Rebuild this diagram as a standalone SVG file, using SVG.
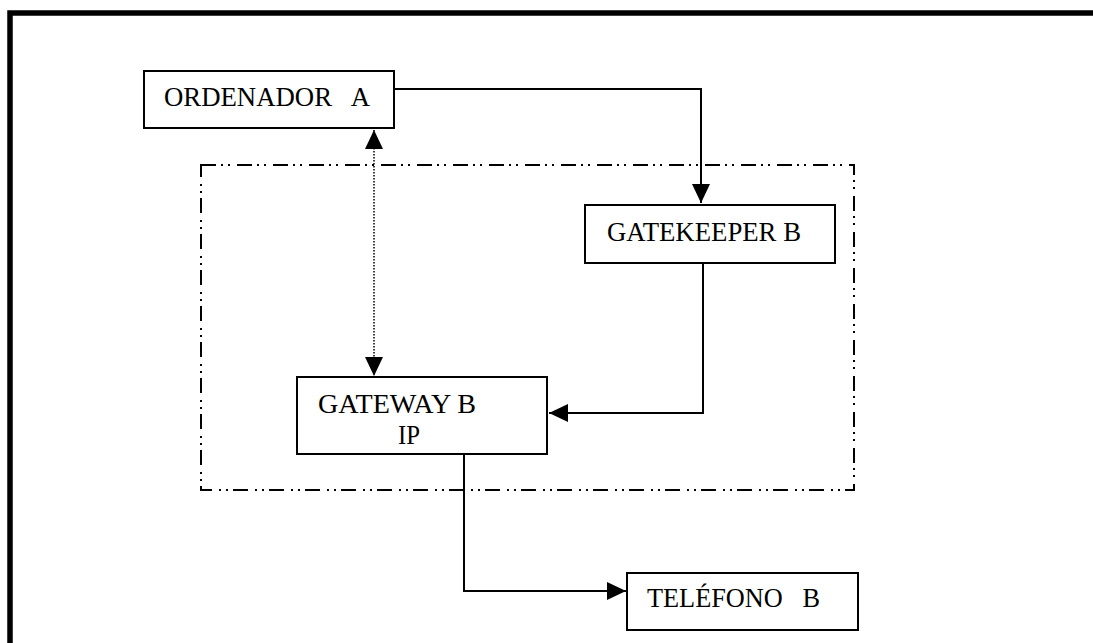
<svg xmlns="http://www.w3.org/2000/svg" width="1093" height="643" viewBox="0 0 1093 643">
<style>
.box{fill:#fff;stroke:#000;stroke-width:2}
.lbl{font-family:"Liberation Serif","Times New Roman",serif;font-size:27px;fill:#000;white-space:pre}
.conn{fill:none;stroke:#000;stroke-width:2}
.dot{fill:none;stroke:#000;stroke-width:1.5;stroke-dasharray:1.5 1.5}
.group{fill:none;stroke:#000;stroke-width:2;stroke-dasharray:15 5 2 5 2 7}
</style>
<defs>
<marker id="arr" markerUnits="userSpaceOnUse" markerWidth="20" markerHeight="18" refX="19" refY="9" orient="auto-start-reverse" viewBox="0 0 20 18">
<path d="M0,0 L19,9 L0,18 Z" fill="#000"/>
</marker>
</defs>
<rect width="1093" height="643" fill="#fff"/>
<path d="M10,643 V13 H1093" fill="none" stroke="#000" stroke-width="5.5"/>
<rect x="201" y="165" width="653" height="325" class="group"/>
<g id="connectors">
<path class="conn" d="M394,89 H701 V203" marker-end="url(#arr)"/>
<path class="dot" d="M374,130 V376" marker-start="url(#arr)" marker-end="url(#arr)"/>
<path class="conn" d="M703,263 V413 H549" marker-end="url(#arr)"/>
<path class="conn" d="M464,455 V591 H626" marker-end="url(#arr)"/>
</g>
<g id="ordenador">
<rect x="144" y="71" width="250" height="57" class="box"/>
<text x="164" y="106" class="lbl" textLength="206" lengthAdjust="spacingAndGlyphs">ORDENADOR   A</text>
</g>
<g id="gatekeeper">
<rect x="585" y="205" width="250" height="58" class="box"/>
<text x="607" y="241" class="lbl" textLength="194" lengthAdjust="spacingAndGlyphs">GATEKEEPER B</text>
</g>
<g id="gateway">
<rect x="297" y="377" width="250" height="77" class="box"/>
<text x="318" y="413" class="lbl" textLength="158" lengthAdjust="spacingAndGlyphs">GATEWAY B</text>
<text x="398" y="444" class="lbl" textLength="22" lengthAdjust="spacingAndGlyphs">IP</text>
</g>
<g id="telefono">
<rect x="627" y="573" width="231" height="57" class="box"/>
<text x="647" y="607" class="lbl" textLength="173" lengthAdjust="spacingAndGlyphs">TELÉFONO   B</text>
</g>
</svg>
